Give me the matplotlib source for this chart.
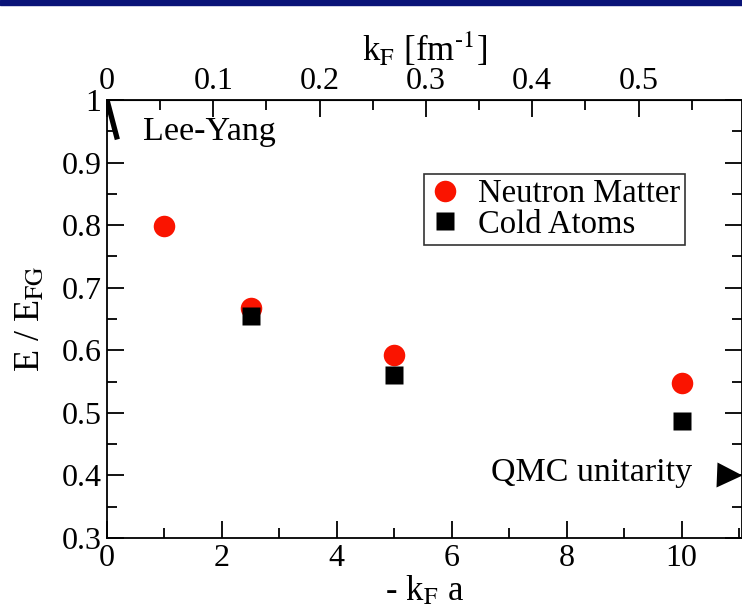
import matplotlib
matplotlib.use("Agg")
import matplotlib.pyplot as plt
from matplotlib.patches import Rectangle
from matplotlib.ticker import MultipleLocator

plt.rcParams['font.family'] = ['Liberation Serif', 'DejaVu Serif']
plt.rcParams['mathtext.fontset'] = 'stix'

# data
kfa_neutron = [1.0, 2.5, 5.0, 10.0]
e_neutron = [0.798, 0.668, 0.593, 0.548]
kfa_atoms = [2.5, 5.0, 10.0]
e_atoms = [0.654, 0.561, 0.487]
lee_yang_x = [0.0, 0.18]
lee_yang_y = [1.0, 0.937]
qmc_x = [10.83]
qmc_y = [0.40]
a_nn = 18.5  # |a| in fm, top axis k_F = (-k_F a) / |a|

fig = plt.figure(figsize=(7.42, 6.15), dpi=100)
ax = fig.add_axes([107/742, 77/615, 635/742, 438/615])

# dark header bar of the slide
fig.patches.append(Rectangle((0, 1 - 5/615), 1, 5/615, transform=fig.transFigure,
                             color='#0a1478', zorder=10))

ax.plot(lee_yang_x, lee_yang_y, color='black', lw=3.8, solid_capstyle='butt')
ax.plot(kfa_neutron, e_neutron, 'o', color='#fa1400', ms=15.5, mec='none',
        label='Neutron Matter', zorder=3)
ax.plot(kfa_atoms, e_atoms, 's', color='black', ms=13.5, mec='none',
        label='Cold Atoms', zorder=4)
ax.plot(qmc_x, qmc_y, '>', color='black', ms=18, mec='none', clip_on=False, zorder=5)

ax.text(0.63, 0.949, 'Lee-Yang', fontsize=24.5, va='center', ha='left')
ax.text(10.19, 0.404, 'QMC unitarity', fontsize=24.5, va='center', ha='right')

ax.set_xlim(0, 11.05)
ax.set_ylim(0.3, 1.0)
ax.xaxis.set_major_locator(MultipleLocator(2))
ax.xaxis.set_minor_locator(MultipleLocator(1))
ax.yaxis.set_major_locator(MultipleLocator(0.1))
ax.yaxis.set_minor_locator(MultipleLocator(0.05))
ax.set_yticks([0.3, 0.4, 0.5, 0.6, 0.7, 0.8, 0.9, 1.0])
ax.set_yticklabels(['0.3', '0.4', '0.5', '0.6', '0.7', '0.8', '0.9', '1'])
ax.tick_params(which='both', direction='in', top=False, right=True,
               labelsize=23, width=1.3, pad=4)
ax.tick_params(which='major', length=12)
ax.tick_params(which='minor', length=7)
for s in ax.spines.values():
    s.set_linewidth(1.3)

ax.set_xlabel(r'- k$_{\rm F}$ a', fontsize=25, labelpad=1)
ax.set_ylabel(r'E / E$_{\rm FG}$', fontsize=26, labelpad=10)

top = ax.secondary_xaxis('top', functions=(lambda x: x / a_nn, lambda k: k * a_nn))
top.xaxis.set_major_locator(MultipleLocator(0.1))
top.xaxis.set_minor_locator(MultipleLocator(0.05))
top.set_xticks([0, 0.1, 0.2, 0.3, 0.4, 0.5])
top.set_xticklabels(['0', '0.1', '0.2', '0.3', '0.4', '0.5'])
top.tick_params(which='both', direction='in', labelsize=23, width=1.3, pad=3)
top.tick_params(which='major', length=12)
top.tick_params(which='minor', length=7)
top.set_xlabel(r'k$_{\rm F}$ [fm$^{\text{-1}}$]', fontsize=25, labelpad=4)

leg = ax.legend(loc='upper right', bbox_to_anchor=(685/742, 1 - 174/615),
                bbox_transform=fig.transFigure, fontsize=23.5, frameon=True,
                fancybox=False, edgecolor='black', borderpad=0.15,
                labelspacing=0.0, handletextpad=0.5, handlelength=1.0,
                borderaxespad=0)
leg.get_frame().set_linewidth(1.2)

fig.savefig('out.png', dpi=100)
